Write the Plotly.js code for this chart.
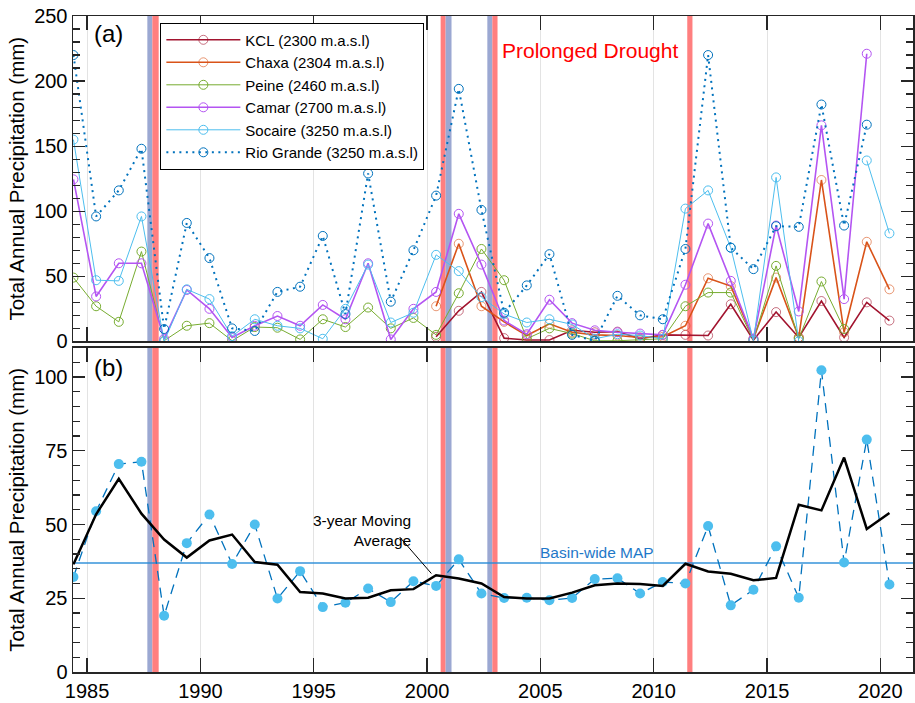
<!DOCTYPE html>
<html>
<head>
<meta charset="utf-8">
<script src="https://cdn.plot.ly/plotly-3.0.1.min.js"></script>
<style>html,body{margin:0;padding:0;background:#fff;}#chart{width:915px;height:703px;}</style>
</head>
<body>
<div id="chart"></div>
<script>
// ---------- DATA ----------
const years = [1984,1985,1986,1987,1988,1989,1990,1991,1992,1993,1994,1995,1996,1997,1998,1999,2000,
  2001,2002,2003,2004,2005,2006,2007,2008,2009,2010,2011,2012,2013,2014,2015,2016,2017,2018,2019,2020];
const stationNames = ["KCL (2300 m.a.s.l)","Chaxa (2304 m.a.s.l)","Peine (2460 m.a.s.l)",
  "Camar (2700 m.a.s.l)","Socaire (3250 m.a.s.l)","Rio Grande (3250 m.a.s.l)"];
const kcl = [null,null,null,null,null,null,null,null,null,null,null,null,null,null,null,null,
  3.5,23.5,38,2.5,1,1,8.5,7,7.5,2,5,5,4.5,28.5,1,22.5,3,31,3,30,16];
const chaxa = [null,null,null,null,null,null,null,null,null,null,null,null,null,null,null,null,
  27,75,27,15,4.5,13.5,7,5,4.5,3,3.5,12,48.5,42.5,2,49,3,124,7,76.5,40];
const peine = [49,27,15,69,0.5,12,14,0.5,11,10.5,1.5,17,11,26,10,18,5,
  37,71,47,2,10,6,0.5,0.5,1,2,27,37.5,37.5,1,58,2,46,9.5,null,null];
const camar = [124.5,34.5,60,60,2,39.5,25,3,12,19.5,12,28,17,60,1.5,25,38,
  98,59,16,5.5,32,14,8.5,7,6,5,43.5,90.5,46.5,2,89,23,166,32.5,221,null];
const socaire = [155,47,46.5,96,0,40,32.5,4,17,12,10,2,25,59,14.5,22,66.5,
  54,34,21,14.5,17,13,2,5.5,4.5,2,102,116,72,0.5,126,0,null,null,139,83];
const rioGrande = [220,96,116,148,9.5,91,64,10,8,38,42,81,21,129,30.5,70,112,
  194,101,22,43,67,5,0.5,35,20,17,71,220,72,55.5,88.5,88,182,89,166.5,null];

const basinPrecip = [32.2,54.5,70.5,71.3,19.1,43.7,53.4,36.6,50.0,24.9,34.2,22.0,23.5,28.3,23.7,30.8,29.2,
  38.2,26.6,25.1,25.2,24.3,25.1,31.5,31.8,26.6,30.5,30.0,49.5,22.6,27.9,42.6,25.2,102.3,37.1,78.8,29.7];
const movingAvg3yr = [36.5,53.5,65.5,53.7,44.9,38.8,44.6,46.6,37.3,36.4,27.1,26.6,24.9,25.2,27.7,28.1,32.8,
  31.7,30.0,25.4,24.9,24.9,26.9,29.4,30.0,29.8,29.2,36.7,34.1,33.3,31.1,31.9,56.7,54.8,72.7,48.5,53.9];
const basinMAP = 37;

// event bands (start year, end year, kind)
const bandStart = [1987.66,1987.88,2000.60,2000.82,2002.66,2002.88,2011.48];
const bandEnd   = [1987.88,1988.16,2000.82,2001.08,2002.88,2003.11,2011.71];
const bandKind  = ["blue","red","red","blue","blue","red","red"];

const xTickVals = [1985,1990,1995,2000,2005,2010,2015,2020];

// ---------- STYLE ----------
const yearOffset = 0.4;
const xs = years.map(y => y + yearOffset);
const FONT = "Liberation Sans, Arial, sans-serif";
const AX = "#262626";
const lineColors = ["#A2142F","#D95319","#77AC30","#B455F2","#4DBEEE","#0072BD"];
const markerColors = ["rgba(162,20,47,0.6)","rgba(217,83,25,0.6)","#77AC30","#B455F2","#4DBEEE","#0072BD"];
const lineWidths = [1.6,1.6,1,1.6,1,2];
const series = [kcl, chaxa, peine, camar, socaire, rioGrande];

const traces = series.map((s, i) => ({
  type: "scatter", mode: "lines+markers", x: xs, y: s, name: stationNames[i],
  xaxis: "x", yaxis: "y", connectgaps: false,
  line: {color: lineColors[i], width: lineWidths[i], dash: i === 5 ? "2px,4.5px" : "solid"},
  marker: {symbol: "circle-open", size: 9, color: markerColors[i], line: {width: 1, color: markerColors[i]}}
}));

traces.push({
  type: "scatter", mode: "lines", x: [xs[0]-1, xs[xs.length-1]+2], y: [basinMAP, basinMAP],
  xaxis: "x2", yaxis: "y2", showlegend: false, hoverinfo: "skip",
  line: {color: "rgba(40,140,215,0.7)", width: 2}
});
traces.push({
  type: "scatter", mode: "lines+markers", x: xs, y: basinPrecip, xaxis: "x2", yaxis: "y2", showlegend: false,
  line: {color: "#0072BD", width: 1.3, dash: "10px,7px"},
  marker: {symbol: "circle", size: 10, color: "#4DBEEE"}
});
traces.push({
  type: "scatter", mode: "lines", x: xs, y: movingAvg3yr, xaxis: "x2", yaxis: "y2", showlegend: false,
  line: {color: "#000000", width: 2.5}
});

const bandColor = {blue: "#9BA8D2", red: "#FF7F7F"};
const shapes = [];
[["x","y"], ["x2","y2"]].forEach(([xa, ya]) => {
  bandStart.forEach((b, i) => {
    shapes.push({type: "rect", xref: xa, yref: ya + " domain",
      x0: b, x1: bandEnd[i], y0: 0, y1: 1, line: {width: 0}, fillcolor: bandColor[bandKind[i]], layer: "below"});
  });
});

const xRange = [1984.38, 2021.44];
const xCommon = {
  range: xRange, tickvals: xTickVals, ticks: "inside", ticklen: 14, tickcolor: AX, tickwidth: 1.2,
  showline: true, linecolor: AX, linewidth: 1.5, mirror: "ticks",
  showgrid: true, gridcolor: "#E3E3E3", gridwidth: 1, zeroline: false,
  tickfont: {family: FONT, size: 20, color: "#000"}
};
const yCommon = {
  ticks: "inside", ticklen: 12, tickcolor: AX, tickwidth: 1.2,
  showline: true, linecolor: AX, linewidth: 1.5, mirror: "ticks",
  showgrid: false, zeroline: false,
  tickfont: {family: FONT, size: 20, color: "#000"}
};

const layout = {
  width: 915, height: 703,
  margin: {l: 73, r: 2, t: 16, b: 31},
  paper_bgcolor: "#fff", plot_bgcolor: "#fff",
  font: {family: FONT, color: "#000"},
  showlegend: true,
  legend: {x: 0.104, y: 0.99, xanchor: "left", yanchor: "top", bgcolor: "#fff",
    bordercolor: "#000", borderwidth: 1, font: {family: FONT, size: 15, color: "#000"},
    itemwidth: 74, tracegroupgap: 0},
  xaxis: Object.assign({}, xCommon, {anchor: "y", showticklabels: false}),
  xaxis2: Object.assign({}, xCommon, {anchor: "y2", matches: "x"}),
  yaxis: Object.assign({}, yCommon, {domain: [0.504, 1], anchor: "x", range: [0, 250], dtick: 50,
    minor: {dtick: 10, ticks: "inside", ticklen: 7, tickcolor: AX},
    title: {text: "Total Annual Precipitation (mm)", font: {family: FONT, size: 20.5, color: "#000"}, standoff: 4}}),
  yaxis2: Object.assign({}, yCommon, {domain: [0, 0.4945], anchor: "x2", range: [0, 110], dtick: 25,
    minor: {dtick: 5, ticks: "inside", ticklen: 7, tickcolor: AX},
    title: {text: "Total Annual Precipitation (mm)", font: {family: FONT, size: 20.5, color: "#000"}, standoff: 4}}),
  shapes: shapes,
  annotations: [
    {xref: "x", yref: "y", x: 1985.24, y: 236.6, xanchor: "left", yanchor: "middle", showarrow: false,
      text: "(a)", font: {family: FONT, size: 24, color: "#000"}},
    {xref: "x2", yref: "y2", x: 1985.24, y: 103.4, xanchor: "left", yanchor: "middle", showarrow: false,
      text: "(b)", font: {family: FONT, size: 24, color: "#000"}},
    {xref: "x", yref: "y", x: 2007.2, y: 223.7, xanchor: "center", yanchor: "middle", showarrow: false,
      text: "Prolonged Drought", font: {family: FONT, size: 21, color: "#FF0000"}},
    {xref: "x2", yref: "y2", x: 1999.4, y: 48.0, xanchor: "right", yanchor: "middle", showarrow: false,
      align: "right", text: "3-year Moving<br>Average", font: {family: FONT, size: 15.5, color: "#000"}},
    {xref: "x2", yref: "y2", x: 2000.19, y: 33.4, text: "", showarrow: true, arrowhead: 0,
      arrowwidth: 1, arrowcolor: "#000", ax: -33, ay: -38},
    {xref: "x2", yref: "y2", x: 2007.5, y: 40.6, xanchor: "center", yanchor: "middle", showarrow: false,
      text: "Basin-wide MAP", font: {family: FONT, size: 15.5, color: "#1E78C8"}}
  ]
};

Plotly.newPlot("chart", traces, layout, {displayModeBar: false, staticPlot: true});
</script>
</body>
</html>
